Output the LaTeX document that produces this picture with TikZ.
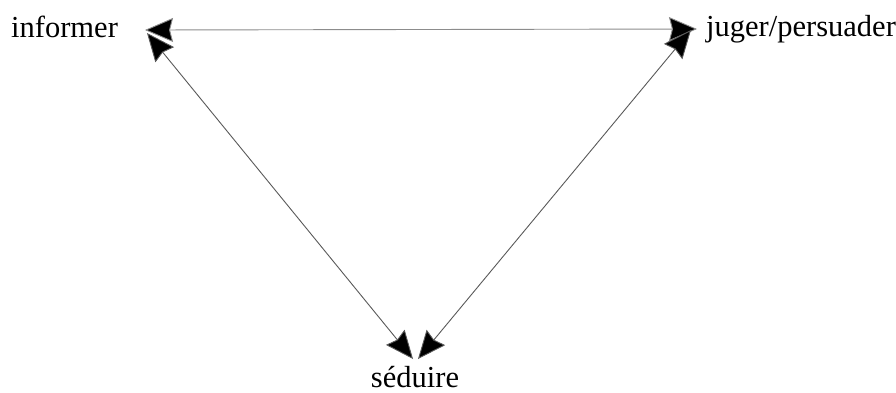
\documentclass[tikz,border=0pt]{standalone}
\usepackage{fontspec}
\setmainfont{Liberation Serif}
\usetikzlibrary{arrows.meta}
\begin{document}
\begin{tikzpicture}[x=1pt,y=-1pt,
  lbl/.style={font=\fontsize{30.5}{36}\selectfont, inner sep=0pt},
  bigtip/.tip={Stealth[length=28pt,width=24pt,inset=3pt,fill=black]},
  link/.style={draw=black!65, line width=0.9pt, bigtip-bigtip},
  hlink/.style={link, draw=black!45}]
\useasboundingbox (0,0) rectangle (896,392);
\node[lbl, anchor=base west] (inf) at (11,37) {informer};
\node[lbl, anchor=base west] (jug) at (706,36) {juger/persuader};
\node[lbl, anchor=base] (sed) at (415,387) {séduire};
\coordinate (iH) at (145,30);
\coordinate (iD) at (147,33);
\coordinate (jH) at (697,29);
\coordinate (jD) at (691,30);
\coordinate (sL) at (413,359);
\coordinate (sR) at (418,359);
\draw[hlink] (iH) -- (jH);
\draw[link] (iD) -- (sL);
\draw[link] (jD) -- (sR);
\end{tikzpicture}
\end{document}
